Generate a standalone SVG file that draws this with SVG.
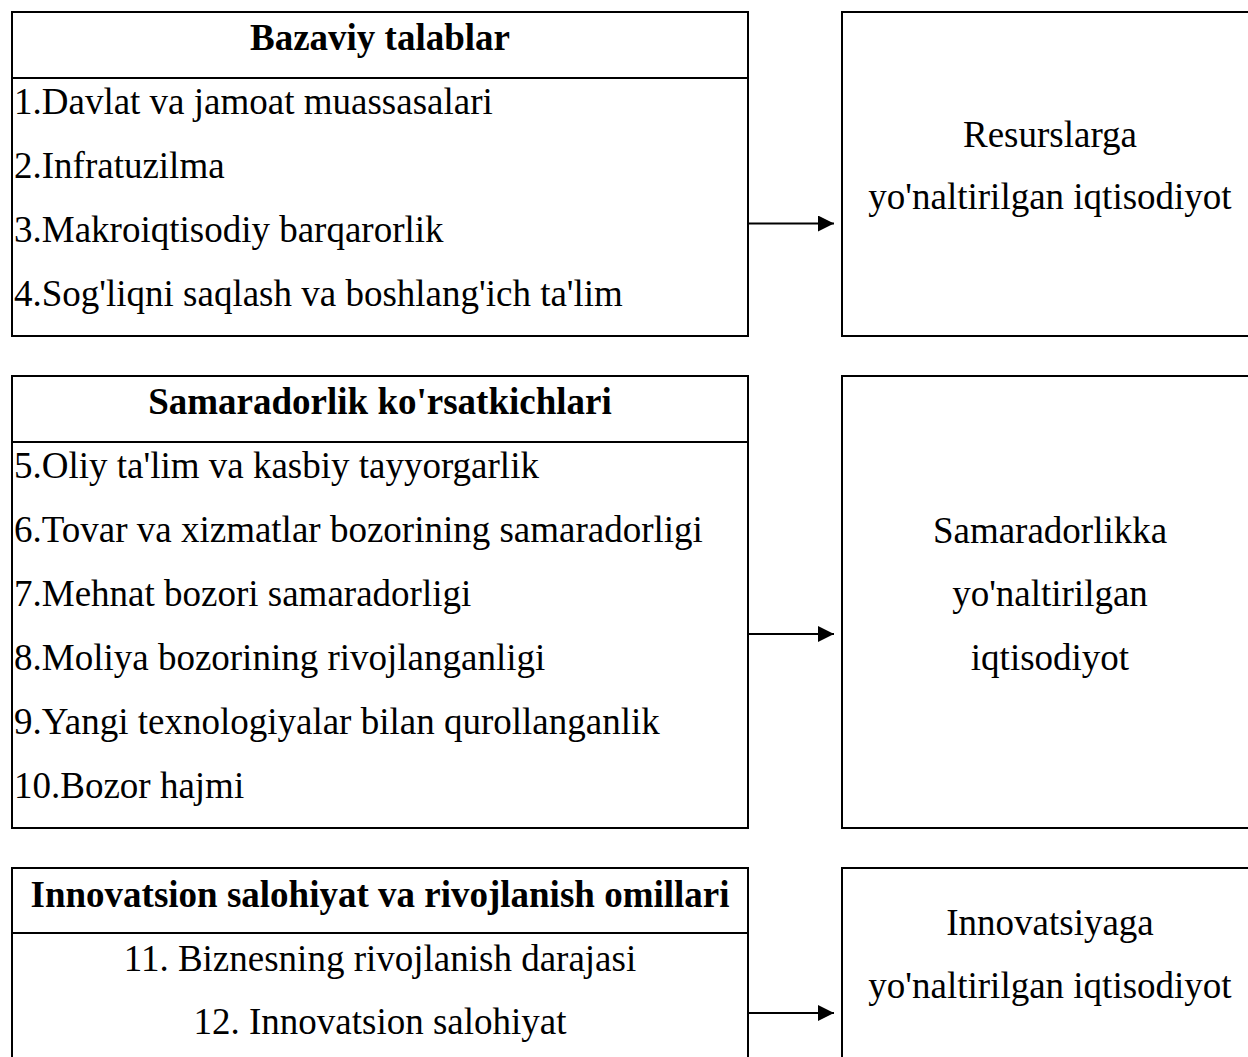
<svg xmlns="http://www.w3.org/2000/svg" width="1248" height="1057" viewBox="0 0 1248 1057">
<style>
.box{fill:#fff;stroke:#000;stroke-width:2}
.div{stroke:#000;stroke-width:2}
.t{font-family:"Liberation Serif","Times New Roman",serif;font-size:37px;fill:#000}
.b{font-weight:bold}
.c{text-anchor:middle}
.conn{stroke:#000;stroke-width:2;fill:none}
</style>
<defs>
<marker id="ah" markerUnits="userSpaceOnUse" markerWidth="18" markerHeight="18" refX="16" refY="8" orient="auto">
<path d="M0,0 L16,8 L0,16 z" fill="#000"/>
</marker>
</defs>
<rect width="1248" height="1057" fill="#fff"/>
<g id="bazaviy">
<rect class="box" x="12" y="12" width="736" height="324"/>
<line class="div" x1="12" y1="78" x2="748" y2="78"/>
<text class="t b c" x="380" y="50">Bazaviy talablar</text>
<text class="t" x="14" y="114">1.Davlat va jamoat muassasalari</text>
<text class="t" x="14" y="178">2.Infratuzilma</text>
<text class="t" x="14" y="242">3.Makroiqtisodiy barqarorlik</text>
<text class="t" x="14" y="306">4.Sog'liqni saqlash va boshlang'ich ta'lim</text>
</g>
<g id="resurs">
<rect class="box" x="842" y="12" width="420" height="324"/>
<text class="t c" x="1050" y="147">Resurslarga</text>
<text class="t c" x="1050" y="209">yo'naltirilgan iqtisodiyot</text>
</g>
<g id="samaradorlik">
<rect class="box" x="12" y="376" width="736" height="452"/>
<line class="div" x1="12" y1="442" x2="748" y2="442"/>
<text class="t b c" x="380" y="414">Samaradorlik ko'rsatkichlari</text>
<text class="t" x="14" y="478">5.Oliy ta'lim va kasbiy tayyorgarlik</text>
<text class="t" x="14" y="542">6.Tovar va xizmatlar bozorining samaradorligi</text>
<text class="t" x="14" y="606">7.Mehnat bozori samaradorligi</text>
<text class="t" x="14" y="670">8.Moliya bozorining rivojlanganligi</text>
<text class="t" x="14" y="734">9.Yangi texnologiyalar bilan qurollanganlik</text>
<text class="t" x="14" y="798">10.Bozor hajmi</text>
</g>
<g id="samaradorlikka">
<rect class="box" x="842" y="376" width="420" height="452"/>
<text class="t c" x="1050" y="543">Samaradorlikka</text>
<text class="t c" x="1050" y="606">yo'naltirilgan</text>
<text class="t c" x="1050" y="670">iqtisodiyot</text>
</g>
<g id="innovatsion">
<rect class="box" x="12" y="868" width="736" height="220"/>
<line class="div" x1="12" y1="933" x2="748" y2="933"/>
<text class="t b c" x="380" y="907">Innovatsion salohiyat va rivojlanish omillari</text>
<text class="t c" x="380" y="971">11. Biznesning rivojlanish darajasi</text>
<text class="t c" x="380" y="1034">12. Innovatsion salohiyat</text>
</g>
<g id="innovatsiyaga">
<rect class="box" x="842" y="868" width="420" height="220"/>
<text class="t c" x="1050" y="935">Innovatsiyaga</text>
<text class="t c" x="1050" y="998">yo'naltirilgan iqtisodiyot</text>
</g>
<g id="connectors">
<line class="conn" x1="749" y1="223.5" x2="834" y2="223.5" marker-end="url(#ah)"/>
<line class="conn" x1="749" y1="634" x2="834" y2="634" marker-end="url(#ah)"/>
<line class="conn" x1="749" y1="1013" x2="834" y2="1013" marker-end="url(#ah)"/>
</g>
</svg>
